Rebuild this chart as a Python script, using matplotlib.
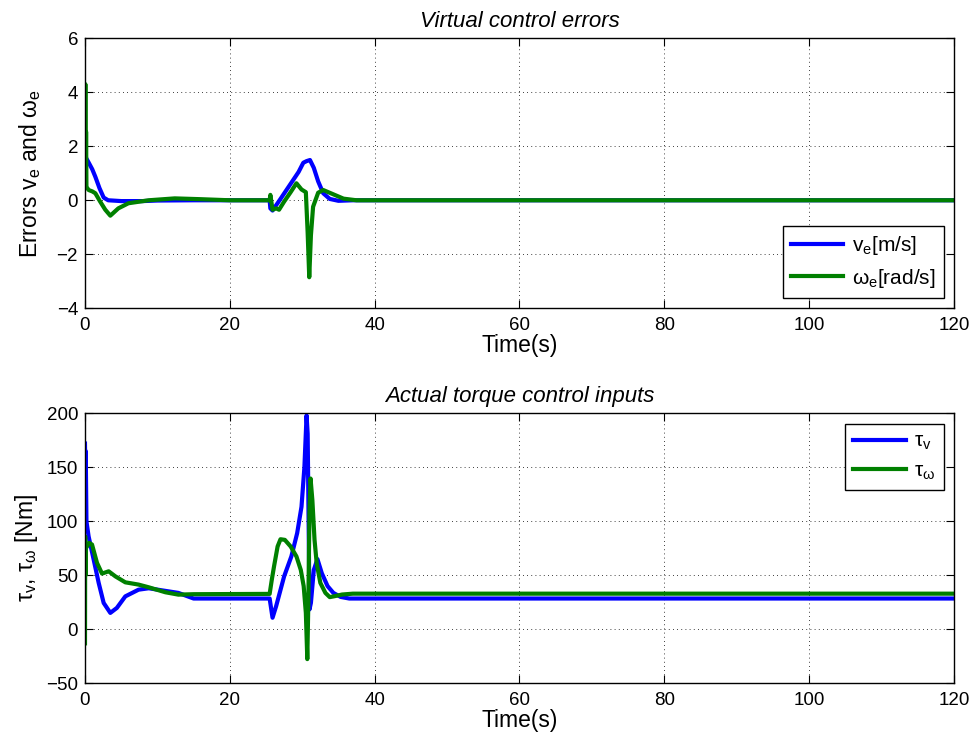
import matplotlib
matplotlib.use("Agg")
import matplotlib.pyplot as plt

plt.rcParams['font.family'] = ['Liberation Sans', 'DejaVu Sans']
plt.rcParams['mathtext.fontset'] = 'custom'
plt.rcParams['mathtext.rm'] = 'Liberation Sans'
plt.rcParams['mathtext.it'] = 'Liberation Sans:italic'

# ---- top panel: virtual control errors ----
t_ve = [0, 0.1, 0.5, 1.0, 1.43, 2.0, 2.58, 3.2, 5, 8, 10, 15, 25.5, 25.6, 25.9,
        27, 28.5, 29.5, 30.15, 30.6, 31.07, 31.6, 32.2, 32.9, 33.8, 35, 37, 120]
ve = [1.6, 1.59, 1.4, 1.15, 0.87, 0.45, 0.1, 0.0, -0.03, -0.03, -0.01, 0, 0, -0.3, -0.38,
      0.05, 0.65, 1.05, 1.39, 1.45, 1.49, 1.2, 0.7, 0.26, 0.05, -0.02, 0, 0]

t_we = [0, 0.05, 0.1, 0.15, 0.2, 0.5, 1.0, 1.43, 2.1, 2.8, 3.5, 4.6, 6.0, 8.8,
        12.4, 16, 20, 25.5, 25.6, 25.9, 26.4, 26.8, 27.5, 28.4, 29.2, 29.9, 30.5,
        30.75, 30.97, 31.2, 31.5, 32.2, 32.9, 34.3, 35.7, 37.5, 120]
we = [0.5, 4.3, 0.6, 2.54, 0.5, 0.38, 0.33, 0.26, -0.05, -0.35, -0.57, -0.3, -0.11, 0.0,
      0.07, 0.04, 0.0, 0.0, 0.2, -0.35, -0.3, -0.35, -0.05, 0.3, 0.63, 0.4, 0.3,
      -1.2, -2.85, -1.3, -0.24, 0.28, 0.38, 0.22, 0.06, 0.0, 0.0]

# ---- bottom panel: torque inputs ----
t_tv = [0, 0.05, 0.1, 0.2, 0.5, 1.2, 1.89, 2.58, 3.5, 4.4, 5.57, 7.4, 8.8, 12.9,
        15, 25.5, 25.9, 26.4, 27.5, 28.5, 29.3, 29.9, 30.3, 30.6, 30.75, 30.9,
        31.0, 31.2, 31.6, 32.1, 32.7, 33.5, 34.3, 35.3, 36.5, 120]
tau_v = [172, 135, 165, 100, 86, 64.5, 43, 24.4, 15.2, 19.8, 30.5, 36.7, 38, 33.7,
         28.5, 28.5, 10.7, 21.5, 49, 67.5, 89, 113.5, 150, 198, 181, 89,
         18.4, 24.5, 55, 65, 52, 40, 33.7, 30, 28.5, 28.5]

t_tw = [0, 0.03, 0.06, 0.12, 0.6, 0.97, 1.66, 2.35, 3.27, 4.2, 5.57, 7.4, 8.8, 11.1,
        12.9, 15, 25.5, 25.8, 26.1, 26.6, 27.0, 27.6, 28.4, 29.2, 29.8, 30.2, 30.5,
        30.7, 30.85, 31.0, 31.15, 31.4, 31.7, 32.0, 32.5, 33.2, 33.8, 34.5, 35.5, 37, 120]
tau_w = [-13, 86, 50, 75, 80, 78.5, 61.5, 51.6, 53.7, 49, 43.5, 41.4, 38.9, 34.3,
         32.1, 32.5, 32.8, 46, 58, 76.7, 83.4, 82.8, 76.7, 67.5, 55, 40, 15.3,
         -27.6, 27.6, 110, 139.6, 119.6, 82.8, 61, 43, 33.7, 29.8, 30.7, 32.2, 33, 33]

fig = plt.figure(figsize=(9.78, 7.40), dpi=100)
ax1 = fig.add_axes([0.0869, 0.5834, 0.8885, 0.3649])
ax2 = fig.add_axes([0.0869, 0.0766, 0.8885, 0.3649])

blue = (0, 0, 1)
green = (0, 0.5, 0)
leg_kw = dict(fontsize=15, fancybox=False, edgecolor='black', framealpha=1,
              borderaxespad=0.5, handlelength=2.5, handletextpad=0.4,
              borderpad=0.4, labelspacing=0.45)

ax1.plot(t_ve, ve, color=blue, lw=3, label='v$_{\\mathrm{e}}$[m/s]')
ax1.plot(t_we, we, color=green, lw=3, label='ω$_{\\mathrm{e}}$[rad/s]')
ax1.set_xlim(0, 120)
ax1.set_ylim(-4, 6)
ax1.set_yticks([-4, -2, 0, 2, 4, 6])
ax1.set_title('Virtual control errors', fontsize=16, style='italic', pad=8)
ax1.set_ylabel('Errors v$_{\\mathrm{e}}$ and ω$_{\\mathrm{e}}$', fontsize=16.5, labelpad=10)
ax1.legend(loc='lower right', **leg_kw)

ax2.plot(t_tv, tau_v, color=blue, lw=3, label='τ$_{\\mathrm{v}}$')
ax2.plot(t_tw, tau_w, color=green, lw=3, label='τ$_{\\mathrm{ω}}$')
ax2.set_xlim(0, 120)
ax2.set_ylim(-50, 200)
ax2.set_yticks([-50, 0, 50, 100, 150, 200])
ax2.set_title('Actual torque control inputs', fontsize=16, style='italic', pad=8)
ax2.set_ylabel('τ$_{\\mathrm{v}}$, τ$_{\\mathrm{ω}}$ [Nm]', fontsize=16.5, labelpad=4)
ax2.legend(loc='upper right', **leg_kw)

for ax in (ax1, ax2):
    ax.set_xticks([0, 20, 40, 60, 80, 100, 120])
    ax.set_xlabel('Time(s)', fontsize=16.5, labelpad=0)
    ax.grid(True, linestyle=(0, (1, 4)), color='black', linewidth=0.6)
    ax.tick_params(direction='in', top=True, right=True, length=6, labelsize=13.5)
    ax.tick_params(axis='x', pad=6)
    ax.tick_params(axis='y', pad=5)
    for s in ax.spines.values():
        s.set_linewidth(1.0)

fig.savefig('out.png', dpi=100)
